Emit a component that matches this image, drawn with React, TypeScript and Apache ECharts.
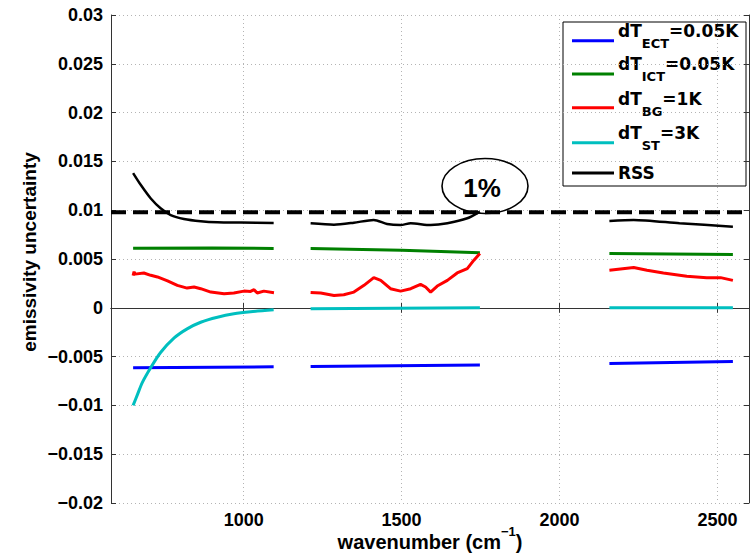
import React, { useEffect, useRef } from 'react';
import * as echarts from 'echarts';

// ---------- data ----------
const xTicks = [1000, 1500, 2000, 2500];
const xMin = 580;
const xMax = 2600;
const yMin = -0.02;
const yMax = 0.03;
const yStep = 0.005;

// null = gap between the three spectral bands
const ectWn = [650, 1095, null, 1212, 1748, null, 2158, 2549];
const ectVal = [-0.00615, -0.00605, null, -0.00602, -0.00585, null, -0.0057, -0.0055];

const ictWn = [650, 900, 1095, null, 1212, 1500, 1748, null, 2158, 2549];
const ictVal = [0.0061, 0.00612, 0.00608, null, 0.00608, 0.0059, 0.00565, null, 0.00557, 0.00547];

const bgWn = [
  650, 653, 656, 684, 706, 727, 759, 790, 821, 843, 864, 896, 938, 969, 1001, 1022, 1033, 1043, 1064, 1096, null,
  1212, 1244, 1286, 1317, 1349, 1381, 1412, 1434, 1465, 1497, 1529, 1560, 1576, 1592, 1613, 1645, 1676, 1708, 1729, 1748, null,
  2158, 2235, 2277, 2329, 2403, 2466, 2510, 2549,
];
const bgVal = [
  0.0033, 0.0037, 0.00345, 0.00357, 0.00333, 0.00316, 0.00275, 0.0023, 0.00202, 0.00213, 0.00196, 0.00161, 0.00144, 0.00151, 0.00171, 0.00168, 0.00186, 0.00151, 0.00171, 0.00155, null,
  0.00158, 0.00151, 0.00127, 0.00134, 0.00161, 0.0023, 0.00309, 0.00281, 0.00196, 0.00171, 0.00196, 0.0024, 0.00213, 0.00161, 0.00223, 0.00281, 0.00357, 0.00402, 0.00488, 0.00557, null,
  0.00385, 0.00412, 0.00385, 0.00357, 0.00323, 0.00309, 0.00309, 0.00281,
];

const stWn = [650, 664, 679, 706, 737, 780, 821, 864, 917, 969, 1022, 1095, null, 1212, 1748, null, 2158, 2549];
const stVal = [-0.01, -0.00887, -0.00767, -0.00612, -0.00458, -0.00309, -0.00216, -0.00148, -0.00097, -0.00062, -0.00041, -0.00021, null, -0.0001, 0.0, null, 0.0, 0.0];

const rssWn = [
  650, 674, 706, 737, 769, 811, 864, 917, 991, 1095, null,
  1212, 1286, 1349, 1412, 1454, 1497, 1529, 1592, 1645, 1708, 1748, null,
  2158, 2235, 2380, 2549,
];
const rssVal = [
  0.0138, 0.0126, 0.0112, 0.0102, 0.0095, 0.0091, 0.00887, 0.00876, 0.00873, 0.00869, null,
  0.00866, 0.00852, 0.00872, 0.009, 0.00859, 0.00848, 0.00866, 0.00848, 0.00866, 0.00917, 0.00986, null,
  0.0089, 0.009, 0.00866, 0.00831,
];

const limitLevel = 0.0098; // 1% emissivity line

const seriesNames = ['dT_ECT=0.05K', 'dT_ICT=0.05K', 'dT_BG=1K', 'dT_ST=3K', 'RSS'];
const legendMain = ['dT', 'dT', 'dT', 'dT', 'RSS'];
const legendSub = ['ECT', 'ICT', 'BG', 'ST', ''];
const legendRest = ['=0.05K', '=0.05K', '=1K', '=3K', ''];
const seriesColors = ['#0000ff', '#008000', '#ff0000', '#00bfbf', '#000000'];
const seriesWidths = [3, 3, 3, 3, 2.5];

const annotationText = '1%';

// ---------- helpers ----------
function pairs(wn: (number | null)[], val: (number | null)[]) {
  return wn.map((w, i) => (w == null || val[i] == null ? ['-', '-'] : [w, val[i]]));
}

function fmtY(v: number) {
  const r = Math.round(v * 1000000) / 1000000;
  return String(r).replace('-', '\u2212');
}

const tickFont = {
  fontFamily: 'Liberation Sans, Arial, sans-serif',
  fontWeight: 'bold' as const,
  fontSize: 18,
  color: '#000',
};

export default function App() {
  const ref = useRef<HTMLDivElement | null>(null);

  useEffect(() => {
    if (!ref.current) return;
    const chart = echarts.init(ref.current, null, { renderer: 'svg' });

    const datasets = [
      pairs(ectWn, ectVal),
      pairs(ictWn, ictVal),
      pairs(bgWn, bgVal),
      pairs(stWn, stVal),
      pairs(rssWn, rssVal),
    ];

    const lineSeries: any[] = datasets.map((d, i) => ({
      name: seriesNames[i],
      type: 'line',
      data: d,
      showSymbol: false,
      symbol: 'none',
      connectNulls: false,
      smooth: i === 3 || i === 4 ? 0.25 : false,
      lineStyle: { color: seriesColors[i], width: seriesWidths[i] },
      itemStyle: { color: seriesColors[i] },
      z: 3 + i,
    }));

    lineSeries.push({
      name: '1% level',
      type: 'line',
      data: [
        [xMin, limitLevel],
        [xMax, limitLevel],
      ],
      showSymbol: false,
      symbol: 'none',
      lineStyle: { color: '#000', width: 4, type: [15, 7] },
      z: 2,
    });

    // legend drawn with graphic elements (box, sample lines, rich text)
    const boxX = 563;
    const boxY = 22;
    const lineYs = [40.7, 74, 107.7, 142.7, 173];
    const textYs = [30.8, 64, 99, 132.5, 173.3];
    const legendChildren: any[] = [
      {
        type: 'rect',
        shape: { x: boxX, y: boxY, width: 183, height: 164 },
        style: { fill: '#fff', stroke: '#000', lineWidth: 1 },
      },
    ];
    const mainStyle = { fontFamily: 'DejaVu Sans', fontWeight: 'bold', fontSize: 17, fill: '#000' };
    const subStyle = { fontFamily: 'DejaVu Sans', fontWeight: 'bold', fontSize: 13, fill: '#000', padding: [25, 0, 0, 0] };
    seriesNames.forEach((_, i) => {
      legendChildren.push({
        type: 'line',
        shape: { x1: 572, y1: lineYs[i], x2: 614, y2: lineYs[i] },
        style: { stroke: seriesColors[i], lineWidth: 3 },
      });
      const txt = legendSub[i]
        ? `{m|${legendMain[i]}}{s|${legendSub[i]}}{m|${legendRest[i]}}`
        : `{m|${legendMain[i]}}`;
      legendChildren.push({
        type: 'text',
        x: 618,
        y: textYs[i],
        style: {
          text: txt,
          verticalAlign: 'middle',
          align: 'left',
          rich: { m: mainStyle, s: subStyle },
        },
      });
    });

    const option: any = {
      animation: false,
      backgroundColor: '#fff',
      grid: { left: 111, right: 2, top: 15, bottom: 56, show: false, containLabel: false, outerBoundsMode: 'none' },
      xAxis: [
        {
          type: 'value',
          min: xMin,
          max: xMax,
          position: 'bottom',
          axisLine: { show: true, lineStyle: { color: '#333', width: 1 } },
          axisTick: { show: true, inside: true, length: 5, customValues: xTicks, lineStyle: { color: '#333' } },
          axisLabel: { ...tickFont, margin: 8, customValues: xTicks, formatter: (v: number) => String(v) },
          splitLine: { show: true, lineStyle: { color: '#b4b4b4', width: 1, type: [1, 3] } },
          name: '{a|wavenumber (cm}{b|\u22121}{a|)}',
          nameLocation: 'middle',
          nameGap: 22,
          nameMoveOverlap: false,
          nameTextStyle: {
            rich: {
              a: { fontFamily: 'Liberation Sans, Arial, sans-serif', fontWeight: 'bold', fontSize: 20, color: '#000' },
              b: {
                fontFamily: 'Liberation Sans, Arial, sans-serif',
                fontWeight: 'bold',
                fontSize: 13,
                color: '#000',
                padding: [0, 0, 20, 0],
              },
            },
          },
        },
        {
          type: 'value',
          min: xMin,
          max: xMax,
          position: 'top',
          axisLine: { show: true, lineStyle: { color: '#333', width: 1 } },
          axisTick: { show: true, inside: true, length: 5, customValues: xTicks, lineStyle: { color: '#333' } },
          axisLabel: { show: false },
          splitLine: { show: false },
        },
      ],
      yAxis: [
        {
          type: 'value',
          min: yMin,
          max: yMax,
          interval: yStep,
          position: 'left',
          axisLine: { show: true, lineStyle: { color: '#333', width: 1 } },
          axisTick: { show: true, inside: true, length: 5, lineStyle: { color: '#333' } },
          axisLabel: { ...tickFont, margin: 8, formatter: (v: number) => fmtY(v) },
          splitLine: { show: true, lineStyle: { color: '#b4b4b4', width: 1, type: [1, 3] } },
          name: 'emissivity uncertainty',
          nameLocation: 'middle',
          nameGap: 72,
          nameMoveOverlap: false,
          nameTextStyle: {
            fontFamily: 'Liberation Sans, Arial, sans-serif',
            fontWeight: 'bold',
            fontSize: 19,
            color: '#000',
            padding: [0, 0, 0, 14],
          },
        },
        {
          type: 'value',
          min: yMin,
          max: yMax,
          interval: yStep,
          position: 'right',
          axisLine: { show: true, lineStyle: { color: '#333', width: 1 } },
          axisTick: { show: true, inside: true, length: 5, lineStyle: { color: '#333' } },
          axisLabel: { show: false },
          splitLine: { show: false },
        },
      ],
      series: lineSeries,
      graphic: [
        {
          type: 'ellipse',
          shape: { cx: 485, cy: 186, rx: 43, ry: 27.5 },
          style: { fill: 'none', stroke: '#000', lineWidth: 1.6 },
          z: 50,
        },
        {
          type: 'text',
          x: 482,
          y: 188,
          style: {
            text: annotationText,
            align: 'center',
            verticalAlign: 'middle',
            fontFamily: 'Liberation Sans, Arial, sans-serif',
            fontWeight: 'bold',
            fontSize: 26,
            fill: '#000',
          },
          z: 50,
        },
        {
          type: 'group',
          z: 100,
          children: legendChildren,
        },
      ],
    };

    chart.setOption(option);
    return () => chart.dispose();
  }, []);

  return (
    <div
      ref={ref}
      style={{ position: 'absolute', left: 0, top: 0, width: 751, height: 559, background: '#fff' }}
    />
  );
}
